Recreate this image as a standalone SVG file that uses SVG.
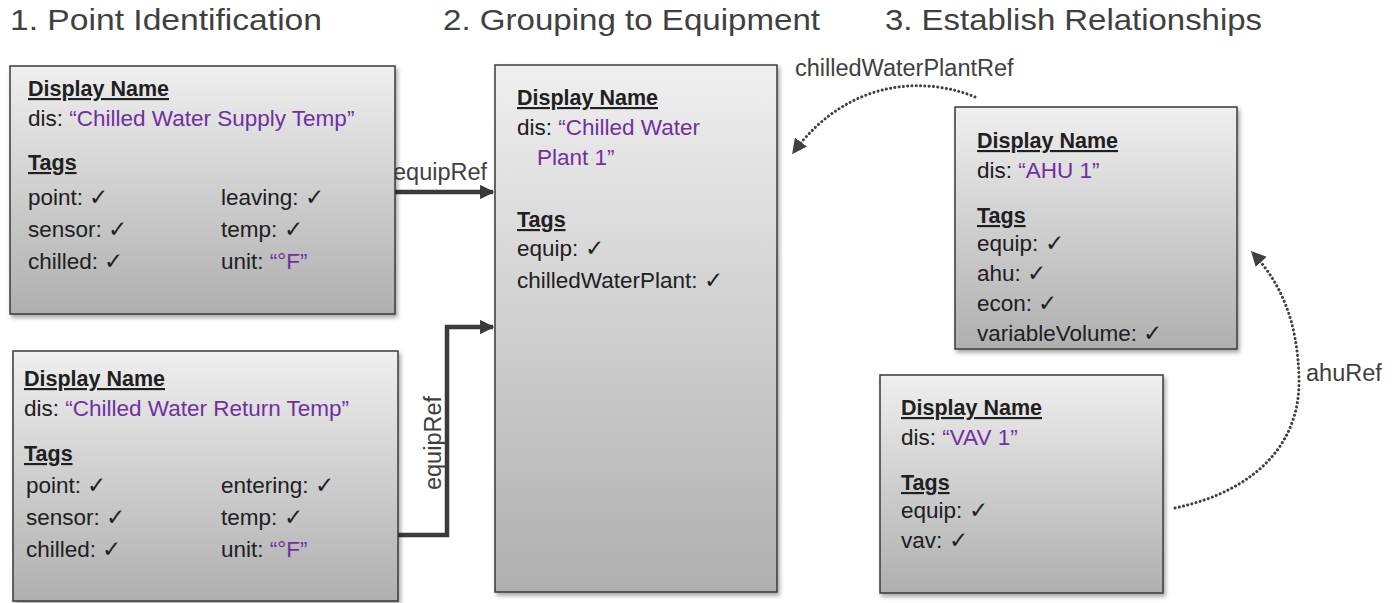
<svg xmlns="http://www.w3.org/2000/svg" width="1399" height="603" viewBox="0 0 1399 603">
<style>
.title{font-family:"Liberation Sans",Arial,sans-serif;font-size:29px;fill:#404040}
.t{font-family:"Liberation Sans",Arial,sans-serif;font-size:22.5px;fill:#202020}
.h{font-weight:bold;text-decoration:underline;font-size:21.5px}
.p{fill:#7030a0}
.lbl{font-family:"Liberation Sans",Arial,sans-serif;font-size:23.5px;fill:#404040}
.box{fill:url(#g);stroke:#3a3a3a;stroke-width:1.5;filter:url(#sh)}
.solid{fill:none;stroke:#3a3a3a;stroke-width:4.5}
.dot{fill:none;stroke:#404040;stroke-width:3;stroke-dasharray:0.1 4.2;stroke-linecap:round}
</style>
<defs>
<linearGradient id="g" x1="0" y1="0" x2="0" y2="1">
<stop offset="0" stop-color="#efefef"/>
<stop offset="1" stop-color="#afafaf"/>
</linearGradient>
<filter id="sh" x="-10%" y="-10%" width="120%" height="120%">
<feDropShadow dx="2" dy="3" stdDeviation="2" flood-color="#000" flood-opacity="0.35"/>
</filter>
<marker id="ah" viewBox="0 0 10 10" refX="9" refY="5" markerWidth="3.2" markerHeight="3.2" orient="auto" markerUnits="strokeWidth">
<path d="M0,0 L10,5 L0,10 z" fill="#3a3a3a"/>
</marker>
<marker id="ahd" viewBox="0 0 10 10" refX="9" refY="5" markerWidth="5" markerHeight="5" orient="auto" markerUnits="strokeWidth">
<path d="M0,0 L10,5 L0,10 z" fill="#404040"/>
</marker>
</defs>

<g id="titles">
<text class="title" x="10" y="30" textLength="312" lengthAdjust="spacingAndGlyphs">1. Point Identification</text>
<text class="title" x="443" y="30" textLength="377" lengthAdjust="spacingAndGlyphs">2. Grouping to Equipment</text>
<text class="title" x="885" y="30" textLength="377" lengthAdjust="spacingAndGlyphs">3. Establish Relationships</text>
</g>

<g id="connectors">
<line class="solid" x1="395" y1="192" x2="493" y2="192" marker-end="url(#ah)"/>
<polyline class="solid" points="398,535 447,535 447,327 493,327" marker-end="url(#ah)"/>
<path class="dot" d="M975,97 C930,78 850,75 793,153" marker-end="url(#ahd)"/>
<path class="dot" d="M1175,508 C1260,490 1300,440 1299,380 C1298,320 1280,282 1252,252" marker-end="url(#ahd)"/>
<text class="lbl" x="393" y="180">equipRef</text>
<text class="lbl" transform="translate(441,443) rotate(-90)" text-anchor="middle">equipRef</text>
<text class="lbl" x="795" y="76">chilledWaterPlantRef</text>
<text class="lbl" x="1306" y="381">ahuRef</text>
</g>

<g id="node-supply">
<rect class="box" x="10" y="66" width="385" height="248"/>
<text class="t h" x="28" y="96">Display Name</text>
<text class="t" x="28" y="126">dis: <tspan class="p">“Chilled Water Supply Temp”</tspan></text>
<text class="t h" x="28" y="170">Tags</text>
<text class="t" x="28" y="205">point: ✓</text>
<text class="t" x="28" y="237">sensor: ✓</text>
<text class="t" x="28" y="269">chilled: ✓</text>
<text class="t" x="221" y="205">leaving: ✓</text>
<text class="t" x="221" y="237">temp: ✓</text>
<text class="t" x="221" y="269">unit: <tspan class="p">“°F”</tspan></text>
</g>

<g id="node-return">
<rect class="box" x="13" y="351" width="385" height="250"/>
<text class="t h" x="24" y="386">Display Name</text>
<text class="t" x="24" y="416">dis: <tspan class="p">“Chilled Water Return Temp”</tspan></text>
<text class="t h" x="24" y="461">Tags</text>
<text class="t" x="26" y="493">point: ✓</text>
<text class="t" x="26" y="525">sensor: ✓</text>
<text class="t" x="26" y="557">chilled: ✓</text>
<text class="t" x="221" y="493">entering: ✓</text>
<text class="t" x="221" y="525">temp: ✓</text>
<text class="t" x="221" y="557">unit: <tspan class="p">“°F”</tspan></text>
</g>

<g id="node-plant">
<rect class="box" x="495" y="65" width="282" height="527"/>
<text class="t h" x="517" y="105">Display Name</text>
<text class="t" x="517" y="135">dis: <tspan class="p">“Chilled Water</tspan></text>
<text class="t p" x="537" y="165">Plant 1”</text>
<text class="t h" x="517" y="227">Tags</text>
<text class="t" x="517" y="256">equip: ✓</text>
<text class="t" x="517" y="288">chilledWaterPlant: ✓</text>
</g>

<g id="node-ahu">
<rect class="box" x="955" y="107" width="282" height="242"/>
<text class="t h" x="977" y="148">Display Name</text>
<text class="t" x="977" y="178">dis: <tspan class="p">“AHU 1”</tspan></text>
<text class="t h" x="977" y="223">Tags</text>
<text class="t" x="977" y="251">equip: ✓</text>
<text class="t" x="977" y="281">ahu: ✓</text>
<text class="t" x="977" y="311">econ: ✓</text>
<text class="t" x="977" y="341">variableVolume: ✓</text>
</g>

<g id="node-vav">
<rect class="box" x="880" y="375" width="283" height="218"/>
<text class="t h" x="901" y="415">Display Name</text>
<text class="t" x="901" y="445">dis: <tspan class="p">“VAV 1”</tspan></text>
<text class="t h" x="901" y="490">Tags</text>
<text class="t" x="901" y="518">equip: ✓</text>
<text class="t" x="901" y="548">vav: ✓</text>
</g>
</svg>
